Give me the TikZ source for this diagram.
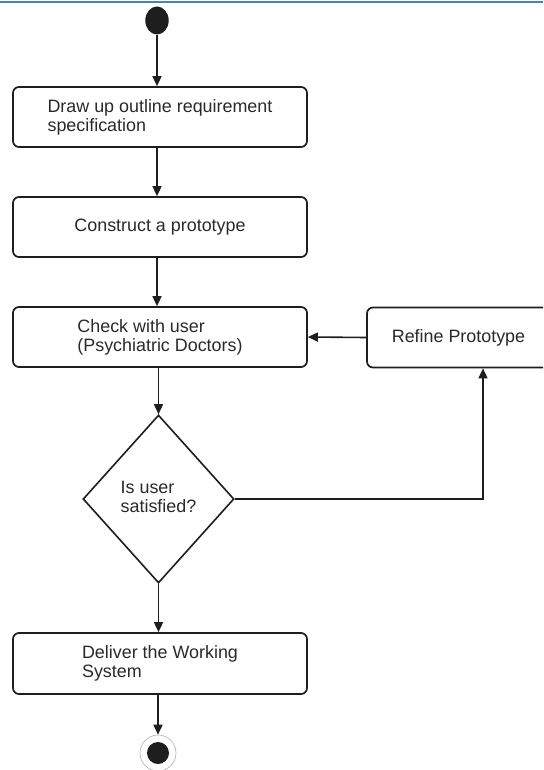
\documentclass[tikz,border=0pt]{standalone}
\usepackage{fontspec}
\setmainfont{Liberation Sans}
\usetikzlibrary{shapes.geometric,arrows.meta}
\definecolor{ink}{HTML}{1E1E1E}
\definecolor{txt}{HTML}{2A2A2A}
\definecolor{rule}{HTML}{4A80C4}
\begin{document}
\begin{tikzpicture}[x=1pt,y=-1pt,
  font=\fontsize{17.9}{19}\selectfont,
  stepbox/.style={draw=ink, line width=1.7pt, rounded corners=6pt, fill=white,
    minimum width=294pt, minimum height=60pt, inner sep=0pt,
    align=left, text=txt},
  decision/.style={draw=ink, line width=1.6pt, diamond, fill=white,
    minimum width=151pt, minimum height=168pt, inner sep=0pt,
    align=left, text=txt},
  flow/.style={draw=ink, line width=1.6pt, -{Triangle[length=10pt,width=9pt]}}]
\useasboundingbox (0,0) rectangle (543,770);
\clip (0,0) rectangle (543,770);
\fill[white] (0,0) rectangle (543,770);

% header rule
\draw[rule, line width=1.4pt] (0,2) -- (543,2);

% initial and final states
\node (start) [ellipse, fill=ink, minimum width=23.4pt, minimum height=28pt, inner sep=0pt] at (157,20.5) {};
\node (endring) [circle, draw=black!30, line width=0.6pt, minimum size=36pt, inner sep=0pt] at (158,753) {};
\node (endc) [circle, fill=ink, minimum size=22pt, inner sep=0pt] at (158,753) {};

% activities
\node (outline) [stepbox] at (160,117) {Draw up outline requirement\\specification};
\node (proto) [stepbox] at (160,227) {Construct a prototype};
\node (check) [stepbox] at (160,337) {Check with user\\(Psychiatric Doctors)};
\node (refine) [stepbox, minimum width=183pt] at (458.5,337.5) {Refine Prototype};
\node (satisfied) [decision] at (158.5,499) {\raisebox{4pt}{\begin{tabular}{@{}l@{}}Is user\\satisfied?\end{tabular}}};
\node (deliver) [stepbox, minimum height=61pt] at (160,663.5) {Deliver the Working\\System};

% control flow
\draw[flow] (start) -- (outline.north -| start);
\draw[flow] (outline.south -| start) -- (proto.north -| start);
\draw[flow] (proto.south -| start) -- (check.north -| start);
\draw[flow] (check.south -| satisfied.north) -- (satisfied.north);
\draw[flow] (satisfied.east) -| ([xshift=24.5pt]refine.south);
\draw[flow] (refine.west) -- (check.east);
\draw[flow] (satisfied.south) -- (deliver.north -| satisfied.south);
\draw[flow] (deliver.south -| endc) -- (endring.north);
\end{tikzpicture}
\end{document}
